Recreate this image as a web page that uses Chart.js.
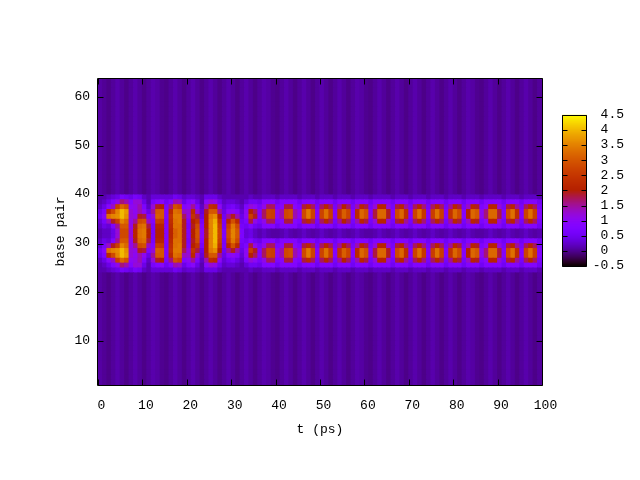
<!DOCTYPE html>
<html><head><meta charset="utf-8">
<script src="https://cdn.jsdelivr.net/npm/chart.js@4"></script>
<style>html,body{margin:0;padding:0;background:#fff}
canvas{position:absolute}
#main{left:0;top:0}#bar{left:530px;top:100px}</style></head><body>
<canvas id="main" width="640" height="480"></canvas>
<canvas id="bar" width="110" height="190"></canvas>
<script>
// columns of the heat map, t = 0..99 ps (one cell per ps)
const times=[0,1,2,3,4,5,6,7,8,9,10,11,12,13,14,15,16,17,18,19,20,21,22,23,24,25,26,27,28,29,30,31,32,33,34,35,36,37,38,39,40,41,42,43,44,45,46,47,48,49,50,51,52,53,54,55,56,57,58,59,60,61,62,63,64,65,66,67,68,69,70,71,72,73,74,75,76,77,78,79,80,81,82,83,84,85,86,87,88,89,90,91,92,93,94,95,96,97,98,99];
// value outside the band (stripes in time), base pairs 1-23 and 40-63
const backdrop=[.05,0,-.05,.02,.09,.02,-.05,.02,.09,.02,-.05,.02,.09,.05,-.02,-.05,.02,.09,.02,-.05,.02,.09,.02,-.05,.02,.09,.02,-.05,.02,.09,.02,-.05,.02,.09,.02,-.05,.02,.09,.05,-.02,-.05,.02,.09,.02,-.05,.02,.09,.02,-.05,.02,.09,.02,-.05,.02,.09,.02,-.05,.02,.09,.05,-.02,-.05,.02,.09,.02,-.05,.02,.09,.02,-.05,.02,.09,.02,-.05,.02,.09,.02,-.05,.02,.09,.02,-.05,.02,.09,.05,-.02,-.05,.02,.09,.02,-.05,.02,.09,.02,-.05,.02,.09,.02,-.05,.02];
// values at one time, base pair 24..39
const t00=[.1,.1,.2,.4,.5,.3,.2,.1,.1,.2,.3,.5,.4,.2,.1,.1];
const t01=[.1,.2,.4,.7,.9,.6,.4,.2,.2,.4,.6,.9,.7,.4,.2,.1];
const t02=[.2,.4,.9,2.2,3.3,1.3,.3,.2,.2,.3,1.3,3.3,2.2,.9,.4,.2];
const t03=[.3,.7,1.3,2.8,3.5,1.9,.7,.4,.4,.7,1.9,3.5,2.8,1.3,.7,.3];
const t04=[.4,1.1,2.6,3.5,3.6,2.6,1.5,1.2,1.2,1.5,2.6,3.6,3.5,2.6,1.1,.4];
const t05=[.6,1.6,3.2,4,4,3.5,3,2.8,2.8,3,3.5,4,4,3.2,1.6,.6];
const t06=[.5,1.4,2.9,3.7,3.6,3.2,3,2.8,2.8,3,3.2,3.6,3.7,2.9,1.4,.5];
const t07=[.4,.8,1,1.2,1.2,1.1,1.1,1.2,1.2,1.1,1.1,1.2,1.2,1,.8,.4];
const t08=[.6,1.2,1.1,1,1.1,1.5,1.9,2.1,2.1,1.9,1.5,1.1,1,1.1,1.2,.6];
const t09=[.5,1.2,1.4,1.4,1.9,2.8,3.2,3.3,3.3,3.2,2.8,1.9,1.4,1.4,1.2,.5];
const t10=[.2,.4,.7,1,1.8,2.9,3.3,3.4,3.4,3.3,2.9,1.8,1,.7,.4,.2];
const t11=[.1,.1,.2,.4,.7,1.3,1.8,2,2,1.8,1.3,.7,.4,.2,.1,.1];
const t12=[.3,.6,1.2,1.5,1.2,.8,.6,.6,.6,.6,.8,1.2,1.5,1.2,.6,.3];
const t13=[.3,.8,1.9,3,3.1,2.6,2.1,2,2,2.1,2.6,3.1,3,1.9,.8,.3];
const t14=[.3,.9,2,3,3,2.5,2.1,2,2,2.1,2.5,3,3,2,.9,.3];
const t15=[.3,.5,.7,.8,.8,.7,.8,.8,.8,.8,.7,.8,.8,.7,.5,.3];
const t16=[.3,.8,1.6,2.2,2.4,2.3,2.2,2.1,2.1,2.2,2.3,2.4,2.2,1.6,.8,.3];
const t17=[.5,1.4,2.9,3.3,3.4,3.3,3.3,3.1,3.1,3.3,3.3,3.4,3.3,2.9,1.4,.5];
const t18=[.4,1.3,2.7,3.2,3.4,3.4,3.3,3.3,3.3,3.3,3.4,3.4,3.2,2.7,1.3,.4];
const t19=[.2,.4,.8,1.3,1.7,1.9,1.9,1.9,1.9,1.9,1.9,1.7,1.3,.8,.4,.2];
const t20=[.3,.7,1,1.2,1.1,.7,.6,.7,.7,.6,.7,1.1,1.2,1,.7,.3];
const t21=[.3,.9,1.5,2.2,2.4,2,1.9,2,2,1.9,2,2.4,2.2,1.5,.9,.3];
const t22=[.2,.4,.7,1.2,1.8,2.4,2.8,2.9,2.9,2.8,2.4,1.8,1.2,.7,.4,.2];
const t23=[.1,.1,.2,.3,.4,.6,.8,.9,.9,.8,.6,.4,.3,.2,.1,.1];
const t24=[.4,.9,1.4,1.9,2,2,2,1.9,1.9,2,2,2,1.9,1.4,.9,.4];
const t25=[.4,1.2,2.3,3,3.4,3.5,3.5,3.5,3.5,3.5,3.5,3.4,3,2.3,1.2,.4];
const t26=[.4,1.1,2.2,3,3.6,3.9,4,4,4,4,3.9,3.6,3,2.2,1.1,.4];
const t27=[.2,.5,1,1.5,2,2.4,2.6,2.7,2.7,2.6,2.4,2,1.5,1,.5,.2];
const t28=[.1,.2,.3,.4,.5,.6,.6,.7,.7,.6,.6,.5,.4,.3,.2,.1];
const t29=[.1,.3,.5,.9,1.5,2.1,2.6,2.8,2.8,2.6,2.1,1.5,.9,.5,.3,.1];
const t30=[.1,.3,.6,1,1.9,2.9,3.4,3.5,3.5,3.4,2.9,1.9,1,.6,.3,.1];
const t31=[.1,.2,.4,.8,1.4,2.2,2.8,3,3,2.8,2.2,1.4,.8,.4,.2,.1];
const t32=[.1,.1,.2,.3,.4,.5,.6,.7,.7,.6,.5,.4,.3,.2,.1,.1];
const t33=[.1,.3,.7,1,1,.7,.5,.3,.3,.5,.7,1,1,.7,.3,.1];
const t34=[.2,.5,1.2,2,2.6,1.8,.8,.4,.4,.8,1.8,2.6,2,1.2,.5,.2];
const t35=[.1,.5,1,1.7,1.9,1.1,.5,.2,.2,.5,1.1,1.9,1.7,1,.5,.1];
const t36=[.1,.4,.6,.8,.8,.6,.4,.1,.1,.4,.6,.8,.8,.6,.4,.1];
const t37=[.2,.8,1.1,1.7,1.7,1.1,.8,.2,.2,.8,1.1,1.7,1.7,1.1,.8,.2];
const t38=[.2,.8,1.7,2.7,2.7,1.7,.8,.1,.1,.8,1.7,2.7,2.7,1.7,.8,.2];
const t39=[.2,.8,1.7,2.6,2.6,1.7,.8,.05,.05,.8,1.7,2.6,2.6,1.7,.8,.2];
const t40=[.1,.5,.7,1,1,.7,.5,.05,.05,.5,.7,1,1,.7,.5,.1];
const t41=[.2,.8,.9,1.4,1.4,.9,.8,.1,.1,.8,.9,1.4,1.4,.9,.8,.2];
const t42=[.2,.8,1.8,2.8,2.8,1.8,.8,.2,.2,.8,1.8,2.8,2.8,1.8,.8,.2];
const t43=[.2,.8,1.8,2.9,2.9,1.8,.8,.1,.1,.8,1.8,2.9,2.9,1.8,.8,.2];
const t44=[.2,.8,.9,1.4,1.4,.9,.8,.05,.05,.8,.9,1.4,1.4,.9,.8,.2];
const t45=[.1,.5,.7,1,1,.7,.5,.1,.1,.5,.7,1,1,.7,.5,.1];
const t46=[.2,.8,1.8,2.8,2.8,1.8,.8,.2,.2,.8,1.8,2.8,2.8,1.8,.8,.2];
const t47=[.2,.8,2.2,3.4,3.4,2.2,.8,.1,.1,.8,2.2,3.4,3.4,2.2,.8,.2];
const t48=[.2,.8,1.7,2.7,2.7,1.7,.8,.05,.05,.8,1.7,2.7,2.7,1.7,.8,.2];
const t49=[.1,.5,.6,.8,.8,.6,.5,.1,.1,.5,.6,.8,.8,.6,.5,.1];
const t50=[.2,.8,1.7,2.7,2.7,1.7,.8,.2,.2,.8,1.7,2.7,2.7,1.7,.8,.2];
const t51=[.2,.8,2.1,3.3,3.3,2.1,.8,.1,.1,.8,2.1,3.3,3.3,2.1,.8,.2];
const t52=[.2,.8,1.7,2.6,2.6,1.7,.8,.05,.05,.8,1.7,2.6,2.6,1.7,.8,.2];
const t53=[.1,.5,.6,.8,.8,.6,.5,.1,.1,.5,.6,.8,.8,.6,.5,.1];
const t54=[.2,.8,1.5,2.4,2.4,1.5,.8,.2,.2,.8,1.5,2.4,2.4,1.5,.8,.2];
const t55=[.2,.8,2,3.1,3.1,2,.8,.1,.1,.8,2,3.1,3.1,2,.8,.2];
const t56=[.2,.8,1.7,2.7,2.7,1.7,.8,.05,.05,.8,1.7,2.7,2.7,1.7,.8,.2];
const t57=[.1,.5,.6,.8,.8,.6,.5,.1,.1,.5,.6,.8,.8,.6,.5,.1];
const t58=[.2,.8,1.4,2.2,2.2,1.4,.8,.2,.2,.8,1.4,2.2,2.2,1.4,.8,.2];
const t59=[.2,.8,2.1,3.2,3.2,2.1,.8,.1,.1,.8,2.1,3.2,3.2,2.1,.8,.2];
const t60=[.2,.8,1.8,2.9,2.9,1.8,.8,.05,.05,.8,1.8,2.9,2.9,1.8,.8,.2];
const t61=[.1,.5,.6,.8,.8,.6,.5,.05,.05,.5,.6,.8,.8,.6,.5,.1];
const t62=[.2,.8,1.2,1.8,1.8,1.2,.8,.1,.1,.8,1.2,1.8,1.8,1.2,.8,.2];
const t63=[.2,.8,2.1,3.2,3.2,2.1,.8,.2,.2,.8,2.1,3.2,3.2,2.1,.8,.2];
const t64=[.2,.8,2.1,3.2,3.2,2.1,.8,.1,.1,.8,2.1,3.2,3.2,2.1,.8,.2];
const t65=[.2,.8,1.2,1.9,1.9,1.2,.8,.05,.05,.8,1.2,1.9,1.9,1.2,.8,.2];
const t66=[.1,.5,.6,.8,.8,.6,.5,.1,.1,.5,.6,.8,.8,.6,.5,.1];
const t67=[.2,.8,1.8,2.8,2.8,1.8,.8,.2,.2,.8,1.8,2.8,2.8,1.8,.8,.2];
const t68=[.2,.8,2.1,3.2,3.2,2.1,.8,.1,.1,.8,2.1,3.2,3.2,2.1,.8,.2];
const t69=[.2,.8,1.5,2.3,2.3,1.5,.8,.05,.05,.8,1.5,2.3,2.3,1.5,.8,.2];
const t70=[.1,.5,.6,.8,.8,.6,.5,.1,.1,.5,.6,.8,.8,.6,.5,.1];
const t71=[.2,.8,1.7,2.7,2.7,1.7,.8,.2,.2,.8,1.7,2.7,2.7,1.7,.8,.2];
const t72=[.2,.8,2.1,3.3,3.3,2.1,.8,.1,.1,.8,2.1,3.3,3.3,2.1,.8,.2];
const t73=[.2,.8,1.6,2.5,2.5,1.6,.8,.05,.05,.8,1.6,2.5,2.5,1.6,.8,.2];
const t74=[.1,.5,.6,.8,.8,.6,.5,.1,.1,.5,.6,.8,.8,.6,.5,.1];
const t75=[.2,.8,1.7,2.6,2.6,1.7,.8,.2,.2,.8,1.7,2.6,2.6,1.7,.8,.2];
const t76=[.2,.8,2.1,3.3,3.3,2.1,.8,.1,.1,.8,2.1,3.3,3.3,2.1,.8,.2];
const t77=[.2,.8,1.7,2.6,2.6,1.7,.8,.05,.05,.8,1.7,2.6,2.6,1.7,.8,.2];
const t78=[.1,.5,.6,.8,.8,.6,.5,.1,.1,.5,.6,.8,.8,.6,.5,.1];
const t79=[.2,.8,1.5,2.4,2.4,1.5,.8,.2,.2,.8,1.5,2.4,2.4,1.5,.8,.2];
const t80=[.2,.8,2.1,3.2,3.2,2.1,.8,.1,.1,.8,2.1,3.2,3.2,2.1,.8,.2];
const t81=[.2,.8,1.8,2.8,2.8,1.8,.8,.05,.05,.8,1.8,2.8,2.8,1.8,.8,.2];
const t82=[.1,.5,.6,.8,.8,.6,.5,.1,.1,.5,.6,.8,.8,.6,.5,.1];
const t83=[.2,.8,1.3,2,2,1.3,.8,.2,.2,.8,1.3,2,2,1.3,.8,.2];
const t84=[.2,.8,2.1,3.2,3.2,2.1,.8,.1,.1,.8,2.1,3.2,3.2,2.1,.8,.2];
const t85=[.2,.8,1.9,3,3,1.9,.8,.05,.05,.8,1.9,3,3,1.9,.8,.2];
const t86=[.1,.5,.7,1,1,.7,.5,.05,.05,.5,.7,1,1,.7,.5,.1];
const t87=[.2,.8,1,1.6,1.6,1,.8,.1,.1,.8,1,1.6,1.6,1,.8,.2];
const t88=[.2,.8,2.1,3.2,3.2,2.1,.8,.2,.2,.8,2.1,3.2,3.2,2.1,.8,.2];
const t89=[.2,.8,2.1,3.2,3.2,2.1,.8,.1,.1,.8,2.1,3.2,3.2,2.1,.8,.2];
const t90=[.2,.8,1.2,1.8,1.8,1.2,.8,.05,.05,.8,1.2,1.8,1.8,1.2,.8,.2];
const t91=[.1,.5,.6,.8,.8,.6,.5,.1,.1,.5,.6,.8,.8,.6,.5,.1];
const t92=[.2,.8,1.8,2.8,2.8,1.8,.8,.2,.2,.8,1.8,2.8,2.8,1.8,.8,.2];
const t93=[.2,.8,2.1,3.3,3.3,2.1,.8,.1,.1,.8,2.1,3.3,3.3,2.1,.8,.2];
const t94=[.2,.8,1.5,2.3,2.3,1.5,.8,.05,.05,.8,1.5,2.3,2.3,1.5,.8,.2];
const t95=[.1,.5,.6,.8,.8,.6,.5,.1,.1,.5,.6,.8,.8,.6,.5,.1];
const t96=[.2,.8,1.7,2.7,2.7,1.7,.8,.2,.2,.8,1.7,2.7,2.7,1.7,.8,.2];
const t97=[.2,.8,2.1,3.3,3.3,2.1,.8,.1,.1,.8,2.1,3.3,3.3,2.1,.8,.2];
const t98=[.2,.8,1.7,2.6,2.6,1.7,.8,.05,.05,.8,1.7,2.6,2.6,1.7,.8,.2];
const t99=[.1,.5,.6,.8,.8,.6,.5,.1,.1,.5,.6,.8,.8,.6,.5,.1];
const band=[t00,t01,t02,t03,t04,t05,t06,t07,t08,t09,t10,t11,t12,t13,t14,t15,t16,t17,t18,t19,t20,t21,t22,t23,t24,t25,t26,t27,t28,t29,t30,t31,t32,t33,t34,t35,t36,t37,t38,t39,t40,t41,t42,t43,t44,t45,t46,t47,t48,t49,t50,t51,t52,t53,t54,t55,t56,t57,t58,t59,t60,t61,t62,t63,t64,t65,t66,t67,t68,t69,t70,t71,t72,t73,t74,t75,t76,t77,t78,t79,t80,t81,t82,t83,t84,t85,t86,t87,t88,t89,t90,t91,t92,t93,t94,t95,t96,t97,t98,t99];
const basePairs=[1,2,3,4,5,6,7,8,9,10,11,12,13,14,15,16,17,18,19,20,21,22,23,24,25,26,27,28,29,30,31,32,33,34,35,36,37,38,39,40,41,42,43,44,45,46,47,48,49,50,51,52,53,54,55,56,57,58,59,60,61,62,63];
const colorTicks=[-0.5,0,0.5,1,1.5,2,2.5,3,3.5,4,4.5];
const xTickLabels=[0,10,20,30,40,50,60,70,80,90,100];
const yTickLabels=[10,20,30,40,50,60];
const barStep=5/152;
const barLevels=[];for(let i=0;i<152;i++)barLevels.push(-0.5+i*barStep);

const FONT='"Liberation Mono"';
const clip=v=>Math.max(0,Math.min(1,v));
function palette(v){ // gnuplot rgbformulae 7,5,15
  const x=clip((v+0.5)/5);
  const c=[Math.sqrt(x),x*x*x,Math.sin(2*Math.PI*x)].map(k=>Math.round(clip(k)*255));
  return `rgb(${c[0]},${c[1]},${c[2]})`;
}
function cell(i,bp){const col=band[i];return bp>=24&&bp<=39?col[bp-24]:backdrop[i];}

const frame={id:'frame',afterDraw(ch,args,opts){
  const c=ch.ctx,a=ch.chartArea,L=opts.len;
  c.save();c.strokeStyle='#000';c.lineWidth=1;c.beginPath();
  const l=Math.round(a.left)+opts.dl,r=Math.round(a.right)+opts.dr,t=Math.round(a.top)+.5,b=Math.round(a.bottom)+.5;
  if(opts.ax==='both'){
    ch.scales.x.ticks.forEach(k=>{const p=Math.round(ch.scales.x.getPixelForValue(k.value))+.5;c.moveTo(p,b);c.lineTo(p,b-L);c.moveTo(p,t);c.lineTo(p,t+L);});
  }
  ch.scales.y.ticks.forEach(k=>{const p=Math.round(ch.scales.y.getPixelForValue(k.value))+.5;c.moveTo(l,p);c.lineTo(l+L,p);c.moveTo(r,p);c.lineTo(r-L,p);});
  c.rect(l,t,r-l,b-t);c.stroke();c.restore();
}};

const datasets=basePairs.map(bp=>({
  data:times.map(t=>({x:t+.5,y:[bp,bp+1]})),
  backgroundColor:times.map((t,i)=>palette(cell(i,bp))),
  borderWidth:0,inflateAmount:.5,grouped:false,barPercentage:1,categoryPercentage:1
}));

new Chart(document.getElementById('main'),{
  type:'bar',data:{datasets},
  plugins:[frame],
  options:{responsive:false,animation:false,events:[],
    layout:{padding:{top:78,right:98,bottom:43,left:0}},
    plugins:{legend:{display:false},tooltip:{enabled:false},frame:{len:6,ax:'both',dl:-.5,dr:.5}},
    scales:{
      x:{type:'linear',offset:false,min:0,max:100,
        afterFit:s=>{s.height=52},
        afterBuildTicks:s=>{s.ticks=xTickLabels.map(value=>({value}))},
        grid:{display:false,drawTicks:false},border:{display:false},
        ticks:{maxRotation:0,autoSkip:false,padding:13,labelOffset:3.5,color:'#000',font:{family:FONT,size:13}},
        title:{display:true,text:'t (ps)',color:'#000',padding:{top:0,bottom:0},font:{family:FONT,size:13}}},
      y:{type:'linear',min:1,max:64,
        afterFit:s=>{s.width=98},
        afterBuildTicks:s=>{s.ticks=yTickLabels.map(value=>({value}))},
        grid:{display:false,drawTicks:false},border:{display:false},
        ticks:{autoSkip:false,padding:8,labelOffset:-1,color:'#000',font:{family:FONT,size:13}},
        title:{display:true,text:'base pair',color:'#000',padding:{top:53,bottom:0},font:{family:FONT,size:13}}}
    }}
});

new Chart(document.getElementById('bar'),{
  type:'bar',
  data:{labels:[''],datasets:barLevels.map(v=>({data:[[v,v+barStep]],backgroundColor:palette(v+barStep/2),borderWidth:0,inflateAmount:.5,grouped:false,barPercentage:1,categoryPercentage:1}))},
  plugins:[frame],
  options:{responsive:false,animation:false,events:[],
    layout:{padding:{top:14,bottom:24,left:32,right:16}},
    plugins:{legend:{display:false},tooltip:{enabled:false},frame:{len:5,ax:'y',dl:.5,dr:-.5}},
    scales:{
      x:{display:false},
      y:{type:'linear',position:'right',min:-0.5,max:4.5,
        afterFit:s=>{s.width=37},
        afterBuildTicks:s=>{s.ticks=colorTicks.map(value=>({value}))},
        grid:{display:false,drawTicks:false},border:{display:false},
        ticks:{autoSkip:false,padding:7,crossAlign:'far',color:'#000',font:{family:FONT,size:13},
          callback:v=>{const t=String(v);return t.length===1?t+'  ':t;}}}
    }}
});
</script></body></html>
